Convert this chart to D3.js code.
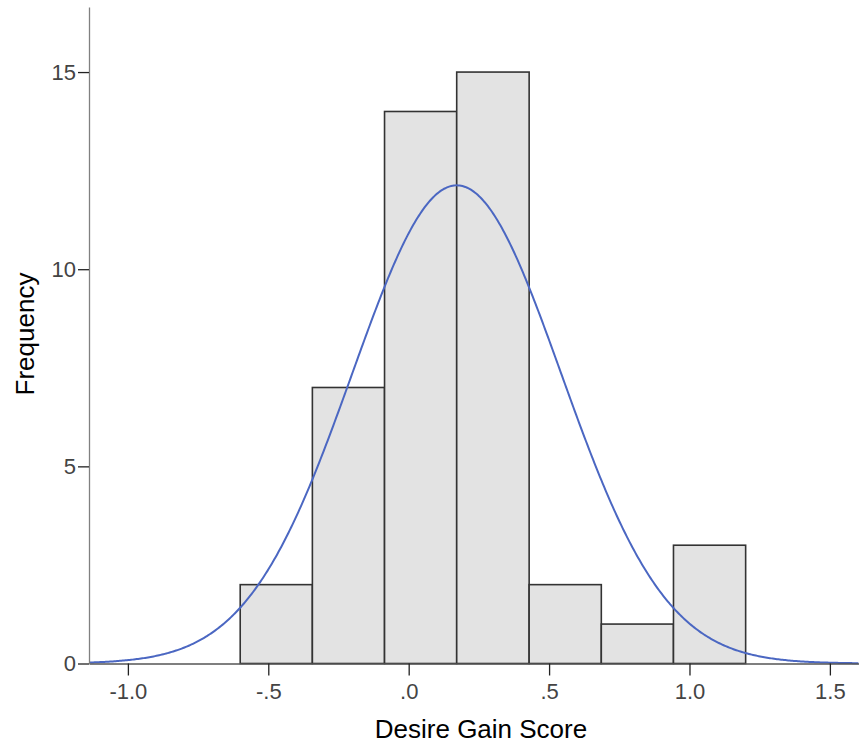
<!DOCTYPE html>
<html>
<head>
<meta charset="utf-8">
<script src="https://cdn.jsdelivr.net/npm/d3@7"></script>
<style>
  body { margin: 0; background: #fff; }
  text { font-family: "Liberation Sans", Arial, sans-serif; }
</style>
</head>
<body>
<script>
(function () {
  'use strict';

  const width = 859,
    height = 744;

  // histogram bins (Desire Gain Score) and counts
  var binEdges = [-0.60, -0.343, -0.086, 0.171, 0.429, 0.686, 0.943, 1.20];
  var counts = [2, 7, 14, 15, 2, 1, 3];
  // normal curve fitted to the data
  var mean = 0.171,
    sd = 0.372,
    n = 44;
  var xTicks = [-1.0, -0.5, 0.0, 0.5, 1.0, 1.5];
  var yTicks = [0, 5, 10, 15];

  var svg = d3.select('body')
    .append('svg')
    .attr('width', width)
    .attr('height', height);

  var x = d3.scaleLinear().domain([-1.1385, 1.6037]).range([89, 859]);
  var y = d3.scaleLinear().domain([0, 16.65]).range([663.5, 7]);

  var bins = counts.map((c, i) => ({ x0: binEdges[i], x1: binEdges[i + 1], count: c }));

  svg.selectAll('rect.bar')
    .data(bins)
    .enter()
    .append('rect')
    .attr('class', 'bar')
    .attr('x', d => x(d.x0))
    .attr('y', d => y(d.count))
    .attr('width', d => x(d.x1) - x(d.x0))
    .attr('height', d => y(0) - y(d.count))
    .style('fill', '#e3e3e3')
    .style('stroke', '#333')
    .style('stroke-width', 1.6);

  // normal curve scaled to counts
  var binW = binEdges[1] - binEdges[0];
  var curveX = d3.range(x.domain()[0], x.domain()[1] + 0.001, 0.005);
  var normal = v => n * binW / (sd * Math.sqrt(2 * Math.PI)) * Math.exp(-Math.pow(v - mean, 2) / (2 * sd * sd));

  svg.append('path')
    .datum(curveX)
    .attr('d', d3.line().x(d => x(d)).y(d => y(normal(d))))
    .style('fill', 'none')
    .style('stroke', '#4b67c2')
    .style('stroke-width', 2);

  // axes, SPSS style labels (no leading zero, plain hyphen)
  var fmt = v => v.toFixed(1).replace(/^(-?)0\./, '$1.');

  var xAxis = svg.append('g')
    .attr('transform', 'translate(0,' + y(0) + ')')
    .call(d3.axisBottom(x).tickValues(xTicks).tickFormat(fmt).tickSize(12).tickSizeOuter(0));
  xAxis.select('.domain').style('stroke', '#555').style('stroke-width', 1.3);
  xAxis.selectAll('.tick line').style('stroke', '#222').style('stroke-width', 1.3);
  xAxis.selectAll('.tick text')
    .attr('dy', 0).attr('y', 35)
    .style('font-size', '22px').style('fill', '#444')
    .style('font-family', '"Liberation Sans", Arial, sans-serif');

  var yAxis = svg.append('g')
    .attr('transform', 'translate(' + x.range()[0] + ',0)')
    .call(d3.axisLeft(y).tickValues(yTicks).tickFormat(d3.format('d')).tickSize(11).tickSizeOuter(0));
  yAxis.select('.domain').style('stroke', '#808080').style('stroke-width', 1.3);
  yAxis.selectAll('.tick line').style('stroke', '#222').style('stroke-width', 1.3);
  yAxis.selectAll('.tick text')
    .attr('x', -13)
    .style('font-size', '22px').style('fill', '#444')
    .style('font-family', '"Liberation Sans", Arial, sans-serif');

  svg.append('text')
    .attr('x', 481)
    .attr('y', 738)
    .attr('text-anchor', 'middle')
    .style('font-size', '26px')
    .style('fill', '#000')
    .text('Desire Gain Score');

  svg.append('text')
    .attr('transform', 'translate(34,334) rotate(-90)')
    .attr('text-anchor', 'middle')
    .style('font-size', '26px')
    .style('fill', '#000')
    .text('Frequency');

})();
</script>
</body>
</html>
